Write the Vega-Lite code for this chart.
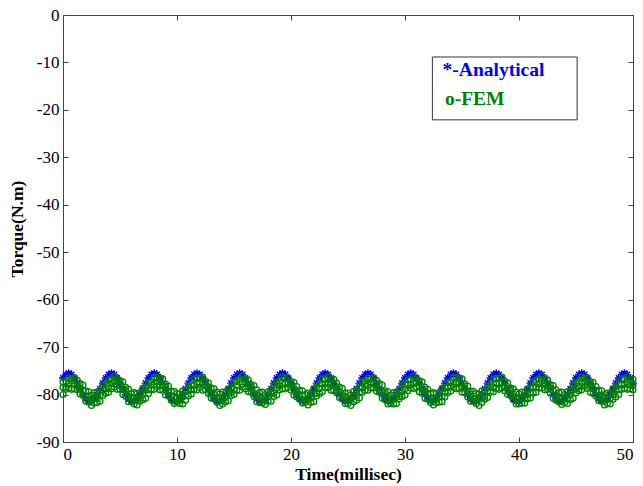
{
  "$schema": "https://vega.github.io/schema/vega-lite/v6.json",
  "width": 570,
  "height": 427,
  "autosize": {"type": "none"},
  "padding": {"left": 63, "top": 15, "right": 10, "bottom": 44},
  "background": "white",
  "config": {
    "font": "Liberation Serif",
    "view": {"stroke": null},
    "axis": {
      "grid": false,
      "domainColor": "#444",
      "tickColor": "#444",
      "labelColor": "#000",
      "titleColor": "#000",
      "labelFont": "Liberation Serif",
      "titleFont": "Liberation Serif",
      "labelFontSize": 17,
      "titleFontSize": 17.5,
      "titleFontWeight": "bold",
      "tickSize": -5,
      "labelPadding": 9,
      "labelExpr": "toString(datum.value)"
    }
  },
  "data": {"values": [
    {"t":0,"a":-76.5,"g1":-77.3,"g2":-78.5,"g3":-80.0},
    {"t":0.25,"a":-75.8,"g1":-77.2,"g2":-78.4,"g3":-78.9},
    {"t":0.5,"a":-75.5,"g1":-76.5,"g2":-77.7,"g3":-78.7},
    {"t":0.75,"a":-75.8,"g1":-76.7,"g2":-77.2,"g3":-78.9},
    {"t":1,"a":-76.5,"g1":-76.4,"g2":-77.8,"g3":-78.8},
    {"t":1.25,"a":-77.6,"g1":-77.0,"g2":-78.3,"g3":-79.0},
    {"t":1.5,"a":-78.8,"g1":-77.7,"g2":-78.6,"g3":-79.9},
    {"t":1.75,"a":-80.0,"g1":-78.0,"g2":-79.1,"g3":-80.2},
    {"t":2,"a":-80.9,"g1":-79.2,"g2":-80.4,"g3":-81.4},
    {"t":2.25,"a":-81.4,"g1":-79.4,"g2":-80.5,"g3":-81.6},
    {"t":2.5,"a":-81.4,"g1":-80.1,"g2":-81.0,"g3":-82.3},
    {"t":2.75,"a":-80.9,"g1":-79.6,"g2":-80.7,"g3":-81.8},
    {"t":3,"a":-80.0,"g1":-79.5,"g2":-80.9,"g3":-81.7},
    {"t":3.25,"a":-78.8,"g1":-79.1,"g2":-80.1,"g3":-81.4},
    {"t":3.5,"a":-77.6,"g1":-78.0,"g2":-79.1,"g3":-80.2},
    {"t":3.75,"a":-76.5,"g1":-77.8,"g2":-78.8,"g3":-79.7},
    {"t":4,"a":-75.8,"g1":-76.9,"g2":-78.3,"g3":-79.5},
    {"t":4.25,"a":-75.5,"g1":-76.9,"g2":-77.6,"g3":-78.8},
    {"t":4.5,"a":-75.8,"g1":-76.2,"g2":-77.2,"g3":-78.4},
    {"t":4.75,"a":-76.5,"g1":-76.6,"g2":-78.0,"g3":-78.9},
    {"t":5,"a":-77.6,"g1":-77.1,"g2":-78.0,"g3":-78.9},
    {"t":5.25,"a":-78.8,"g1":-77.3,"g2":-78.8,"g3":-80.0},
    {"t":5.5,"a":-80.0,"g1":-78.5,"g2":-79.2,"g3":-80.4},
    {"t":5.75,"a":-80.9,"g1":-78.9,"g2":-80.4,"g3":-81.5},
    {"t":6,"a":-81.4,"g1":-79.8,"g2":-80.6,"g3":-81.5},
    {"t":6.25,"a":-81.4,"g1":-79.6,"g2":-80.6,"g3":-82.0},
    {"t":6.5,"a":-80.9,"g1":-79.8,"g2":-81.0,"g3":-82.2},
    {"t":6.75,"a":-80.0,"g1":-79.6,"g2":-80.8,"g3":-81.4},
    {"t":7,"a":-78.8,"g1":-78.7,"g2":-80.0,"g3":-81.1},
    {"t":7.25,"a":-77.6,"g1":-78.5,"g2":-79.1,"g3":-80.8},
    {"t":7.5,"a":-76.5,"g1":-77.5,"g2":-79.0,"g3":-79.8},
    {"t":7.75,"a":-75.8,"g1":-77.3,"g2":-78.0,"g3":-79.0},
    {"t":8,"a":-75.5,"g1":-76.4,"g2":-77.8,"g3":-78.9},
    {"t":8.25,"a":-75.8,"g1":-76.4,"g2":-77.3,"g3":-78.3},
    {"t":8.5,"a":-76.5,"g1":-76.7,"g2":-78.0,"g3":-79.0},
    {"t":8.75,"a":-77.6,"g1":-76.7,"g2":-78.1,"g3":-79.1},
    {"t":9,"a":-78.8,"g1":-77.8,"g2":-78.4,"g3":-80.1},
    {"t":9.25,"a":-80.0,"g1":-78.2,"g2":-79.5,"g3":-80.3},
    {"t":9.5,"a":-80.9,"g1":-79.3,"g2":-80.3,"g3":-81.2},
    {"t":9.75,"a":-81.4,"g1":-79.3,"g2":-80.5,"g3":-81.9},
    {"t":10,"a":-81.4,"g1":-79.8,"g2":-80.6,"g3":-81.7},
    {"t":10.25,"a":-80.9,"g1":-79.9,"g2":-81.2,"g3":-81.9},
    {"t":10.5,"a":-80.0,"g1":-79.2,"g2":-80.5,"g3":-82.0},
    {"t":10.75,"a":-78.8,"g1":-79.2,"g2":-80.2,"g3":-81.2},
    {"t":11,"a":-77.6,"g1":-78.2,"g2":-79.2,"g3":-80.3},
    {"t":11.25,"a":-76.5,"g1":-77.9,"g2":-79.0,"g3":-79.9},
    {"t":11.5,"a":-75.8,"g1":-76.8,"g2":-78.1,"g3":-78.9},
    {"t":11.75,"a":-75.5,"g1":-76.6,"g2":-77.4,"g3":-79.0},
    {"t":12,"a":-75.8,"g1":-76.5,"g2":-77.6,"g3":-78.5},
    {"t":12.25,"a":-76.5,"g1":-76.3,"g2":-77.9,"g3":-79.1},
    {"t":12.5,"a":-77.6,"g1":-77.2,"g2":-78.0,"g3":-79.0},
    {"t":12.75,"a":-78.8,"g1":-77.5,"g2":-78.4,"g3":-79.8},
    {"t":13,"a":-80.0,"g1":-78.6,"g2":-79.7,"g3":-80.7},
    {"t":13.25,"a":-80.9,"g1":-78.8,"g2":-80.0,"g3":-80.9},
    {"t":13.5,"a":-81.4,"g1":-79.5,"g2":-80.7,"g3":-81.6},
    {"t":13.75,"a":-81.4,"g1":-79.9,"g2":-80.7,"g3":-82.3},
    {"t":14,"a":-80.9,"g1":-79.5,"g2":-81.2,"g3":-82.0},
    {"t":14.25,"a":-80.0,"g1":-79.7,"g2":-80.6,"g3":-81.5},
    {"t":14.5,"a":-78.8,"g1":-78.9,"g2":-79.8,"g3":-81.3},
    {"t":14.75,"a":-77.6,"g1":-78.6,"g2":-79.5,"g3":-80.2},
    {"t":15,"a":-76.5,"g1":-77.4,"g2":-78.9,"g3":-80.0},
    {"t":15.25,"a":-75.8,"g1":-77.0,"g2":-78.0,"g3":-79.1},
    {"t":15.5,"a":-75.5,"g1":-76.7,"g2":-77.4,"g3":-79.1},
    {"t":15.75,"a":-75.8,"g1":-76.1,"g2":-77.8,"g3":-78.4},
    {"t":16,"a":-76.5,"g1":-76.8,"g2":-77.6,"g3":-78.8},
    {"t":16.25,"a":-77.6,"g1":-76.9,"g2":-78.2,"g3":-79.4},
    {"t":16.5,"a":-78.8,"g1":-77.9,"g2":-78.5,"g3":-79.5},
    {"t":16.75,"a":-80.0,"g1":-78.1,"g2":-79.7,"g3":-80.4},
    {"t":17,"a":-80.9,"g1":-79.0,"g2":-80.1,"g3":-81.5},
    {"t":17.25,"a":-81.4,"g1":-79.6,"g2":-80.3,"g3":-81.7},
    {"t":17.5,"a":-81.4,"g1":-79.5,"g2":-81.0,"g3":-81.8},
    {"t":17.75,"a":-80.9,"g1":-80.0,"g2":-81.1,"g3":-82.1},
    {"t":18,"a":-80.0,"g1":-79.4,"g2":-80.5,"g3":-81.4},
    {"t":18.25,"a":-78.8,"g1":-79.3,"g2":-79.8,"g3":-81.4},
    {"t":18.5,"a":-77.6,"g1":-78.1,"g2":-79.7,"g3":-80.4},
    {"t":18.75,"a":-76.5,"g1":-77.6,"g2":-78.6,"g3":-80.1},
    {"t":19,"a":-75.8,"g1":-77.1,"g2":-78.2,"g3":-79.0},
    {"t":19.25,"a":-75.5,"g1":-76.3,"g2":-77.5,"g3":-78.8},
    {"t":19.5,"a":-75.8,"g1":-76.6,"g2":-77.8,"g3":-78.8},
    {"t":19.75,"a":-76.5,"g1":-76.5,"g2":-77.7,"g3":-78.5},
    {"t":20,"a":-77.6,"g1":-77.3,"g2":-77.8,"g3":-79.1},
    {"t":20.25,"a":-78.8,"g1":-77.4,"g2":-78.8,"g3":-80.1},
    {"t":20.5,"a":-80.0,"g1":-78.3,"g2":-79.6,"g3":-80.5},
    {"t":20.75,"a":-80.9,"g1":-79.1,"g2":-80.0,"g3":-81.0},
    {"t":21,"a":-81.4,"g1":-79.2,"g2":-80.3,"g3":-81.8},
    {"t":21.25,"a":-81.4,"g1":-80.0,"g2":-81.2,"g3":-81.7},
    {"t":21.5,"a":-80.9,"g1":-79.7,"g2":-80.8,"g3":-82.2},
    {"t":21.75,"a":-80.0,"g1":-79.8,"g2":-80.7,"g3":-81.6},
    {"t":22,"a":-78.8,"g1":-78.8,"g2":-79.9,"g3":-81.5},
    {"t":22.25,"a":-77.6,"g1":-78.3,"g2":-79.7,"g3":-80.3},
    {"t":22.5,"a":-76.5,"g1":-77.7,"g2":-78.7,"g3":-79.8},
    {"t":22.75,"a":-75.8,"g1":-76.7,"g2":-77.8,"g3":-79.4},
    {"t":23,"a":-75.5,"g1":-76.8,"g2":-77.8,"g3":-78.5},
    {"t":23.25,"a":-75.8,"g1":-76.3,"g2":-77.7,"g3":-78.5},
    {"t":23.5,"a":-76.5,"g1":-76.9,"g2":-77.6,"g3":-79.1},
    {"t":23.75,"a":-77.6,"g1":-76.8,"g2":-77.8,"g3":-79.2},
    {"t":24,"a":-78.8,"g1":-77.6,"g2":-79.0,"g3":-79.6},
    {"t":24.25,"a":-80.0,"g1":-78.4,"g2":-79.3,"g3":-80.6},
    {"t":24.5,"a":-80.9,"g1":-78.7,"g2":-80.2,"g3":-80.9},
    {"t":24.75,"a":-81.4,"g1":-79.7,"g2":-80.4,"g3":-81.9},
    {"t":25,"a":-81.4,"g1":-79.7,"g2":-81.2,"g3":-81.9},
    {"t":25.25,"a":-80.9,"g1":-80.1,"g2":-80.9,"g3":-82.3},
    {"t":25.5,"a":-80.0,"g1":-79.3,"g2":-80.3,"g3":-81.5},
    {"t":25.75,"a":-78.8,"g1":-79.0,"g2":-80.2,"g3":-81.2},
    {"t":26,"a":-77.6,"g1":-78.4,"g2":-79.6,"g3":-80.7},
    {"t":26.25,"a":-76.5,"g1":-77.3,"g2":-78.6,"g3":-79.5},
    {"t":26.5,"a":-75.8,"g1":-77.2,"g2":-77.8,"g3":-79.1},
    {"t":26.75,"a":-75.5,"g1":-76.5,"g2":-78.0,"g3":-79.1},
    {"t":27,"a":-75.8,"g1":-76.7,"g2":-77.4,"g3":-78.6},
    {"t":27.25,"a":-76.5,"g1":-76.4,"g2":-77.8,"g3":-78.6},
    {"t":27.5,"a":-77.6,"g1":-77.0,"g2":-77.9,"g3":-79.3},
    {"t":27.75,"a":-78.8,"g1":-77.7,"g2":-79.0,"g3":-79.5},
    {"t":28,"a":-80.0,"g1":-78.0,"g2":-79.4,"g3":-80.7},
    {"t":28.25,"a":-80.9,"g1":-79.2,"g2":-79.8,"g3":-81.1},
    {"t":28.5,"a":-81.4,"g1":-79.4,"g2":-80.7,"g3":-82.0},
    {"t":28.75,"a":-81.4,"g1":-80.1,"g2":-81.1,"g3":-81.8},
    {"t":29,"a":-80.9,"g1":-79.6,"g2":-80.8,"g3":-82.0},
    {"t":29.25,"a":-80.0,"g1":-79.5,"g2":-80.3,"g3":-81.9},
    {"t":29.5,"a":-78.8,"g1":-79.1,"g2":-80.4,"g3":-80.9},
    {"t":29.75,"a":-77.6,"g1":-78.0,"g2":-79.3,"g3":-80.4},
    {"t":30,"a":-76.5,"g1":-77.8,"g2":-78.8,"g3":-80.1},
    {"t":30.25,"a":-75.8,"g1":-76.9,"g2":-77.9,"g3":-79.2},
    {"t":30.5,"a":-75.5,"g1":-76.9,"g2":-78.0,"g3":-78.6},
    {"t":30.75,"a":-75.8,"g1":-76.2,"g2":-77.5,"g3":-78.7},
    {"t":31,"a":-76.5,"g1":-76.6,"g2":-77.4,"g3":-78.5},
    {"t":31.25,"a":-77.6,"g1":-77.1,"g2":-78.2,"g3":-79.4},
    {"t":31.5,"a":-78.8,"g1":-77.3,"g2":-78.9,"g3":-79.7},
    {"t":31.75,"a":-80.0,"g1":-78.5,"g2":-79.3,"g3":-80.8},
    {"t":32,"a":-80.9,"g1":-78.9,"g2":-79.8,"g3":-81.0},
    {"t":32.25,"a":-81.4,"g1":-79.8,"g2":-80.9,"g3":-81.7},
    {"t":32.5,"a":-81.4,"g1":-79.6,"g2":-80.8,"g3":-82.2},
    {"t":32.75,"a":-80.9,"g1":-79.8,"g2":-81.0,"g3":-81.7},
    {"t":33,"a":-80.0,"g1":-79.6,"g2":-80.4,"g3":-81.6},
    {"t":33.25,"a":-78.8,"g1":-78.7,"g2":-80.4,"g3":-81.5},
    {"t":33.5,"a":-77.6,"g1":-78.5,"g2":-79.4,"g3":-80.5},
    {"t":33.75,"a":-76.5,"g1":-77.5,"g2":-78.4,"g3":-79.6},
    {"t":34,"a":-75.8,"g1":-77.3,"g2":-78.2,"g3":-79.3},
    {"t":34.25,"a":-75.5,"g1":-76.4,"g2":-77.9,"g3":-78.5},
    {"t":34.5,"a":-75.8,"g1":-76.4,"g2":-77.4,"g3":-78.8},
    {"t":34.75,"a":-76.5,"g1":-76.7,"g2":-77.4,"g3":-78.7},
    {"t":35,"a":-77.6,"g1":-76.7,"g2":-78.4,"g3":-79.5},
    {"t":35.25,"a":-78.8,"g1":-77.8,"g2":-78.6,"g3":-79.6},
    {"t":35.5,"a":-80.0,"g1":-78.2,"g2":-79.5,"g3":-80.5},
    {"t":35.75,"a":-80.9,"g1":-79.3,"g2":-79.9,"g3":-81.4},
    {"t":36,"a":-81.4,"g1":-79.3,"g2":-80.9,"g3":-81.4},
    {"t":36.25,"a":-81.4,"g1":-79.8,"g2":-80.9,"g3":-81.9},
    {"t":36.5,"a":-80.9,"g1":-79.9,"g2":-80.6,"g3":-82.3},
    {"t":36.75,"a":-80.0,"g1":-79.2,"g2":-80.7,"g3":-81.7},
    {"t":37,"a":-78.8,"g1":-79.2,"g2":-80.3,"g3":-81.0},
    {"t":37.25,"a":-77.6,"g1":-78.2,"g2":-79.3,"g3":-80.6},
    {"t":37.5,"a":-76.5,"g1":-77.9,"g2":-78.4,"g3":-79.5},
    {"t":37.75,"a":-75.8,"g1":-76.8,"g2":-78.4,"g3":-79.4},
    {"t":38,"a":-75.5,"g1":-76.6,"g2":-77.6,"g3":-78.7},
    {"t":38.25,"a":-75.8,"g1":-76.5,"g2":-77.6,"g3":-78.9},
    {"t":38.5,"a":-76.5,"g1":-76.3,"g2":-77.5,"g3":-78.6},
    {"t":38.75,"a":-77.6,"g1":-77.2,"g2":-78.4,"g3":-79.2},
    {"t":39,"a":-78.8,"g1":-77.5,"g2":-78.7,"g3":-80.0},
    {"t":39.25,"a":-80.0,"g1":-78.6,"g2":-79.1,"g3":-80.2},
    {"t":39.5,"a":-80.9,"g1":-78.8,"g2":-80.2,"g3":-81.1},
    {"t":39.75,"a":-81.4,"g1":-79.5,"g2":-80.8,"g3":-82.0},
    {"t":40,"a":-81.4,"g1":-79.9,"g2":-80.8,"g3":-82.0},
    {"t":40.25,"a":-80.9,"g1":-79.5,"g2":-80.6,"g3":-81.8},
    {"t":40.5,"a":-80.0,"g1":-79.7,"g2":-80.9,"g3":-81.8},
    {"t":40.75,"a":-78.8,"g1":-78.9,"g2":-80.0,"g3":-80.9},
    {"t":41,"a":-77.6,"g1":-78.6,"g2":-79.5,"g3":-80.7},
    {"t":41.25,"a":-76.5,"g1":-77.4,"g2":-78.5,"g3":-79.7},
    {"t":41.5,"a":-75.8,"g1":-77.0,"g2":-78.4,"g3":-79.5},
    {"t":41.75,"a":-75.5,"g1":-76.7,"g2":-77.7,"g3":-78.6},
    {"t":42,"a":-75.8,"g1":-76.1,"g2":-77.2,"g3":-78.6},
    {"t":42.25,"a":-76.5,"g1":-76.8,"g2":-77.8,"g3":-79.0},
    {"t":42.5,"a":-77.6,"g1":-76.9,"g2":-78.3,"g3":-78.9},
    {"t":42.75,"a":-78.8,"g1":-77.9,"g2":-78.6,"g3":-79.7},
    {"t":43,"a":-80.0,"g1":-78.1,"g2":-79.1,"g3":-80.8},
    {"t":43.25,"a":-80.9,"g1":-79.0,"g2":-80.4,"g3":-81.2},
    {"t":43.5,"a":-81.4,"g1":-79.6,"g2":-80.5,"g3":-81.5},
    {"t":43.75,"a":-81.4,"g1":-79.5,"g2":-81.0,"g3":-82.1},
    {"t":44,"a":-80.9,"g1":-80.0,"g2":-80.7,"g3":-81.7},
    {"t":44.25,"a":-80.0,"g1":-79.4,"g2":-80.9,"g3":-81.9},
    {"t":44.5,"a":-78.8,"g1":-79.3,"g2":-80.1,"g3":-81.1},
    {"t":44.75,"a":-77.6,"g1":-78.1,"g2":-79.1,"g3":-80.8},
    {"t":45,"a":-76.5,"g1":-77.6,"g2":-78.8,"g3":-79.6},
    {"t":45.25,"a":-75.8,"g1":-77.1,"g2":-78.3,"g3":-79.2},
    {"t":45.5,"a":-75.5,"g1":-76.3,"g2":-77.6,"g3":-79.0},
    {"t":45.75,"a":-75.8,"g1":-76.6,"g2":-77.2,"g3":-78.3},
    {"t":46,"a":-76.5,"g1":-76.5,"g2":-78.0,"g3":-78.7},
    {"t":46.25,"a":-77.6,"g1":-77.3,"g2":-78.0,"g3":-79.5},
    {"t":46.5,"a":-78.8,"g1":-77.4,"g2":-78.8,"g3":-79.8},
    {"t":46.75,"a":-80.0,"g1":-78.3,"g2":-79.2,"g3":-80.3},
    {"t":47,"a":-80.9,"g1":-79.1,"g2":-80.4,"g3":-81.3},
    {"t":47.25,"a":-81.4,"g1":-79.2,"g2":-80.6,"g3":-81.4},
    {"t":47.5,"a":-81.4,"g1":-80.0,"g2":-80.6,"g3":-82.2},
    {"t":47.75,"a":-80.9,"g1":-79.7,"g2":-81.0,"g3":-81.9},
    {"t":48,"a":-80.0,"g1":-79.8,"g2":-80.8,"g3":-82.0},
    {"t":48.25,"a":-78.8,"g1":-78.8,"g2":-80.0,"g3":-81.0},
    {"t":48.5,"a":-77.6,"g1":-78.3,"g2":-79.1,"g3":-80.5},
    {"t":48.75,"a":-76.5,"g1":-77.7,"g2":-79.0,"g3":-80.0},
    {"t":49,"a":-75.8,"g1":-76.7,"g2":-78.0,"g3":-78.9},
    {"t":49.25,"a":-75.5,"g1":-76.8,"g2":-77.8,"g3":-78.7},
    {"t":49.5,"a":-75.8,"g1":-76.3,"g2":-77.3,"g3":-78.9},
    {"t":49.75,"a":-76.5,"g1":-76.9,"g2":-78.0,"g3":-78.8},
    {"t":50,"a":-77.6,"g1":-76.8,"g2":-78.1,"g3":-79.0}
  ]},
  "layer": [
    {
      "mark": {"type": "point", "shape": "M-1,0L1,0M0,-1L0,1M-0.7,-0.7L0.7,0.7M-0.7,0.7L0.7,-0.7", "filled": false, "stroke": "#0000ff", "strokeWidth": 1.4, "size": 64, "opacity": 1},
      "encoding": {
        "x": {"field": "t", "type": "quantitative", "scale": {"domain": [0, 50], "nice": false, "zero": false},
              "axis": {"orient": "bottom", "values": [0, 10, 20, 30, 40, 50], "title": "Time(millisec)", "titlePadding": 3}},
        "y": {"field": "a", "type": "quantitative", "scale": {"domain": [-90, 0], "nice": false, "zero": false},
              "axis": {"orient": "left", "values": [-90, -80, -70, -60, -50, -40, -30, -20, -10, 0], "title": "Torque(N.m)", "titlePadding": 10}}
      }
    },
    {
      "transform": [{"fold": ["g1", "g2", "g3"], "as": ["k", "g"]}],
      "mark": {"type": "point", "shape": "circle", "filled": false, "stroke": "#008000", "strokeWidth": 1.3, "size": 34, "opacity": 1},
      "encoding": {
        "x": {"field": "t", "type": "quantitative",
              "axis": {"orient": "top", "values": [0, 10, 20, 30, 40, 50], "labels": false, "title": null}},
        "y": {"field": "g", "type": "quantitative",
              "axis": {"orient": "right", "values": [-90, -80, -70, -60, -50, -40, -30, -20, -10, 0], "labels": false, "title": null}}
      }
    },
    {
      "data": {"values": [{"x1": 32.4, "x2": 45.1, "y1": -8.85, "y2": -22.1}]},
      "mark": {"type": "rect", "fill": "white", "stroke": "#333", "strokeWidth": 1},
      "encoding": {
        "x": {"field": "x1", "type": "quantitative", "axis": null},
        "x2": {"field": "x2"},
        "y": {"field": "y1", "type": "quantitative", "axis": null},
        "y2": {"field": "y2"}
      }
    },
    {
      "data": {"values": [{"x": 33.3, "y": -11.6, "label": "*-Analytical"}]},
      "mark": {"type": "text", "align": "left", "baseline": "middle", "font": "Liberation Serif", "fontWeight": "bold", "fontSize": 19.5, "fill": "#0000ff"},
      "encoding": {
        "x": {"field": "x", "type": "quantitative", "axis": null},
        "y": {"field": "y", "type": "quantitative", "axis": null},
        "text": {"field": "label"}
      }
    },
    {
      "data": {"values": [{"x": 33.5, "y": -17.8, "label": "o-FEM"}]},
      "mark": {"type": "text", "align": "left", "baseline": "middle", "font": "Liberation Serif", "fontWeight": "bold", "fontSize": 19.5, "fill": "#008000"},
      "encoding": {
        "x": {"field": "x", "type": "quantitative", "axis": null},
        "y": {"field": "y", "type": "quantitative", "axis": null},
        "text": {"field": "label"}
      }
    }
  ],
  "resolve": {"axis": {"x": "independent", "y": "independent"}}
}
